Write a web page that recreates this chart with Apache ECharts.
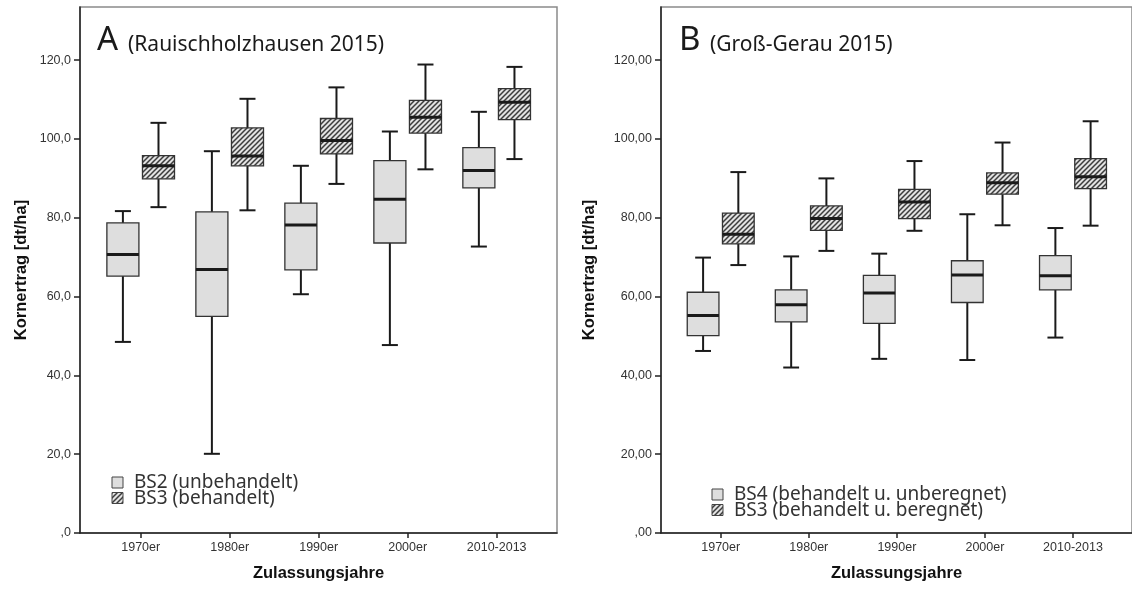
<!DOCTYPE html>
<html>
<head>
<meta charset="utf-8">
<script src="https://cdn.jsdelivr.net/npm/echarts@6/dist/echarts.min.js"></script>
<style>
  html, body { margin: 0; padding: 0; background: #ffffff; }
  #chart { width: 1132px; height: 589px; }
</style>
</head>
<body>
<div id="chart"></div>
<script>
// Zulassungsjahre (registration periods)
const categories = ['1970er', '1980er', '1990er', '2000er', '2010-2013'];

// Each box: [lower whisker, Q1, median, Q3, upper whisker] in dt/ha
// A: Rauischholzhausen 2015
const bs2A = [
  [48.5, 65.2, 70.7, 78.7, 81.7],
  [20.1, 55.0, 66.9, 81.5, 96.9],
  [60.6, 66.8, 78.2, 83.7, 93.2],
  [47.7, 73.6, 84.7, 94.5, 101.9],
  [72.7, 87.6, 92.0, 97.8, 106.9]
];
const bs3A = [
  [82.7, 89.9, 93.2, 95.8, 104.1],
  [81.9, 93.2, 95.7, 102.8, 110.2],
  [88.6, 96.2, 99.6, 105.2, 113.1],
  [92.3, 101.5, 105.5, 109.8, 118.9],
  [94.9, 104.9, 109.3, 112.8, 118.3]
];
// B: Groß-Gerau 2015
const bs4B = [
  [46.2, 50.1, 55.2, 61.1, 69.9],
  [42.0, 53.6, 57.9, 61.7, 70.2],
  [44.2, 53.2, 60.9, 65.4, 70.9],
  [43.9, 58.5, 65.5, 69.1, 80.9],
  [49.6, 61.7, 65.3, 70.4, 77.4]
];
const bs3B = [
  [68.0, 73.4, 75.8, 81.2, 91.6],
  [71.6, 76.8, 79.8, 83.0, 90.0],
  [76.7, 79.8, 84.0, 87.2, 94.4],
  [78.1, 86.0, 88.9, 91.4, 99.1],
  [78.0, 87.4, 90.4, 95.0, 104.5]
];

const yTicks = [0, 20, 40, 60, 80, 100, 120];
const yLabelsA = [',0', '20,0', '40,0', '60,0', '80,0', '100,0', '120,0'];
const yLabelsB = [',00', '20,00', '40,00', '60,00', '80,00', '100,00', '120,00'];

const legendA = ['BS2 (unbehandelt)', 'BS3 (behandelt)'];
const legendB = ['BS4 (behandelt u. unberegnet)', 'BS3 (behandelt u. beregnet)'];

// ---------- styling helpers ----------
const TICK_FONT = '"Liberation Sans", Arial, sans-serif';
const TEXT_FONT = '"Noto Sans", "Open Sans", sans-serif';
const GRAY_FILL = '#dedede';

function hatchCanvas() {
  const s = 5;
  const c = document.createElement('canvas');
  c.width = s; c.height = s;
  const g = c.getContext('2d');
  g.fillStyle = '#e2e2e2';
  g.fillRect(0, 0, s, s);
  g.strokeStyle = '#3c3c3c';
  g.lineWidth = 1.5;
  g.beginPath();
  g.moveTo(-1, s + 1); g.lineTo(s + 1, -1);
  g.moveTo(-1, 1); g.lineTo(1, -1);
  g.moveTo(s - 1, s + 1); g.lineTo(s + 1, s - 1);
  g.stroke();
  return c;
}
const HATCH = { image: hatchCanvas(), repeat: 'repeat' };

// Box-and-whisker drawn through the axis scales; side = -1 left box, +1 right box
function boxRenderer(side, fill) {
  return function (params, api) {
    const i = api.value(0);
    const band = api.size([1, 0])[0];
    const cx = api.coord([i, 0])[0] + side * band * 0.2;
    const w = band * 0.36;
    const cap = w / 4;
    const py = k => api.coord([i, api.value(k)])[1];
    const lo = py(1), q1 = py(2), md = py(3), q3 = py(4), hi = py(5);
    const ln = (x1, y1, x2, y2, lw) => ({
      type: 'line',
      shape: { x1: x1, y1: y1, x2: x2, y2: y2 },
      style: { stroke: '#1a1a1a', lineWidth: lw }
    });
    return {
      type: 'group',
      children: [
        ln(cx, hi, cx, q3, 2),
        ln(cx, q1, cx, lo, 2),
        ln(cx - cap, hi, cx + cap, hi, 2),
        ln(cx - cap, lo, cx + cap, lo, 2),
        {
          type: 'rect',
          shape: { x: cx - w / 2, y: q3, width: w, height: q1 - q3 },
          style: { fill: fill, stroke: '#333333', lineWidth: 1.3 }
        },
        ln(cx - w / 2, md, cx + w / 2, md, 3)
      ]
    };
  };
}

function toItems(list) {
  return list.map((v, i) => [i].concat(v));
}

function makeGrid(left, width) {
  return {
    left: left, top: 7, width: width, height: 526,
    show: true, borderColor: '#8a8a8a', borderWidth: 1.5,
    backgroundColor: 'transparent', containLabel: false
  };
}

function makeXAxis(gridIndex, min, max) {
  return {
    type: 'value', gridIndex: gridIndex, min: min, max: max,
    axisLine: { show: true, onZero: false, lineStyle: { color: '#222', width: 1.5 } },
    axisTick: { show: true, customValues: [0, 1, 2, 3, 4], length: 5, lineStyle: { color: '#222', width: 1.5 } },
    axisLabel: {
      customValues: [0, 1, 2, 3, 4],
      formatter: v => categories[v],
      color: '#333', fontFamily: TICK_FONT, fontSize: 12.5, margin: 8
    },
    splitLine: { show: false },
    name: 'Zulassungsjahre', nameLocation: 'middle', nameGap: 32,
    nameTextStyle: { fontFamily: TICK_FONT, fontWeight: 'bold', fontSize: 16.5, color: '#111' }
  };
}

function makeYAxis(gridIndex, labels, nameGap) {
  return {
    type: 'value', gridIndex: gridIndex, min: 0, max: 133.5,
    axisLine: { show: true, onZero: false, lineStyle: { color: '#222', width: 1.5 } },
    axisTick: { show: true, customValues: yTicks, length: 6, lineStyle: { color: '#222', width: 1.5 } },
    axisLabel: {
      customValues: yTicks,
      formatter: v => labels[yTicks.indexOf(v)],
      color: '#333', fontFamily: TICK_FONT, fontSize: 12.5, margin: 9
    },
    splitLine: { show: false },
    name: 'Kornertrag [dt/ha]', nameLocation: 'middle', nameGap: nameGap, nameRotate: 90,
    nameTextStyle: { fontFamily: TICK_FONT, fontWeight: 'bold', fontSize: 16.5, color: '#111' }
  };
}

function legendItems(x, yTop, labels) {
  const out = [];
  labels.forEach((label, k) => {
    const y = yTop + k * 15.5;
    out.push({
      type: 'rect',
      shape: { x: x, y: y, width: 11, height: 11 },
      style: { fill: k === 0 ? GRAY_FILL : HATCH, stroke: '#444', lineWidth: 1 }
    });
    out.push({
      type: 'text', x: x + 22, y: y + 6,
      style: { text: label, font: '19px ' + TEXT_FONT, fill: '#333', verticalAlign: 'middle', align: 'left' }
    });
  });
  return out;
}

function panelTitle(x, letter, text) {
  return [
    { type: 'text', x: x, y: 41, style: { text: letter, font: '33px ' + TEXT_FONT, fill: '#1a1a1a', verticalAlign: 'middle' } },
    { type: 'text', x: x + 31, y: 45, style: { text: text, font: '21px ' + TEXT_FONT, fill: '#1a1a1a', verticalAlign: 'middle' } }
  ];
}

const chart = echarts.init(document.getElementById('chart'), null, { renderer: 'canvas' });

chart.setOption({
  animation: false,
  backgroundColor: '#ffffff',
  grid: [makeGrid(80, 477), makeGrid(661, 479)],
  xAxis: [makeXAxis(0, -0.682, 4.678), makeXAxis(1, -0.678, 4.67)],
  yAxis: [makeYAxis(0, yLabelsA, 50), makeYAxis(1, yLabelsB, 63)],
  series: [
    { name: legendA[0], type: 'custom', xAxisIndex: 0, yAxisIndex: 0,
      renderItem: boxRenderer(-1, GRAY_FILL), encode: { x: 0, y: [1, 2, 3, 4, 5] }, data: toItems(bs2A) },
    { name: legendA[1], type: 'custom', xAxisIndex: 0, yAxisIndex: 0,
      renderItem: boxRenderer(1, HATCH), encode: { x: 0, y: [1, 2, 3, 4, 5] }, data: toItems(bs3A) },
    { name: legendB[0], type: 'custom', xAxisIndex: 1, yAxisIndex: 1,
      renderItem: boxRenderer(-1, GRAY_FILL), encode: { x: 0, y: [1, 2, 3, 4, 5] }, data: toItems(bs4B) },
    { name: legendB[1], type: 'custom', xAxisIndex: 1, yAxisIndex: 1,
      renderItem: boxRenderer(1, HATCH), encode: { x: 0, y: [1, 2, 3, 4, 5] }, data: toItems(bs3B) }
  ],
  graphic: [].concat(
    panelTitle(97, 'A', '(Rauischholzhausen 2015)'),
    panelTitle(679, 'B', '(Groß-Gerau 2015)'),
    legendItems(112, 477, legendA),
    legendItems(712, 489, legendB)
  )
});
</script>
</body>
</html>
